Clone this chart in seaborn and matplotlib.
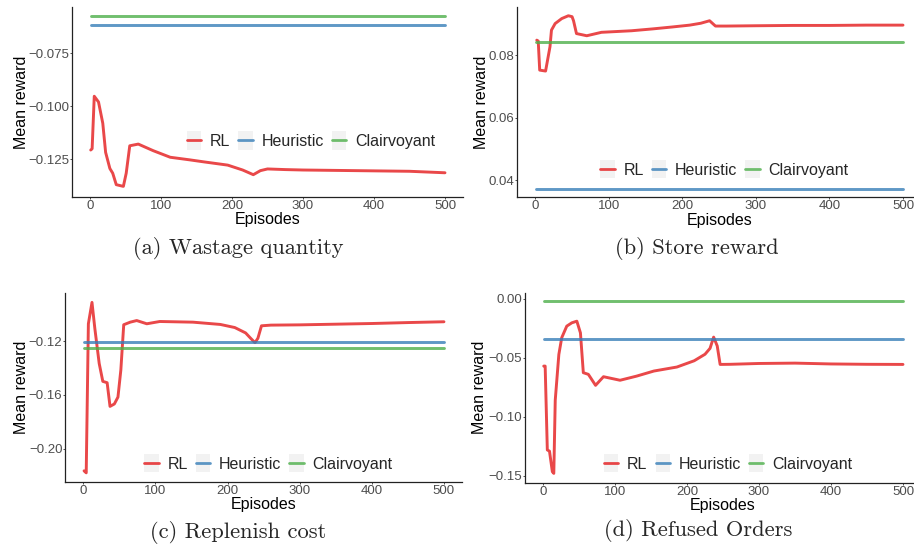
import matplotlib
matplotlib.use('Agg')
import numpy as np
import pandas as pd
import seaborn as sns
from matplotlib import pyplot as plt
from matplotlib.lines import Line2D
from matplotlib.patches import Rectangle
from matplotlib.legend_handler import HandlerLine2D
from matplotlib.ticker import FuncFormatter

# data
methods = ['RL', 'Heuristic', 'Clairvoyant']
colors = {'RL': '#E41A1C', 'Heuristic': '#377EB8', 'Clairvoyant': '#4DAF4A'}
base_episodes = [1, 500]

wastage_ep = [1, 3, 6, 12, 18, 22, 28, 32, 37, 47, 51, 56, 68, 89, 113, 140, 161, 194,
              215, 230, 240, 250, 275, 300, 350, 400, 450, 500]
wastage_rl = [-0.1206, -0.1200, -0.0953, -0.0980, -0.1080, -0.1217, -0.1293, -0.1315,
              -0.1369, -0.1377, -0.1315, -0.1186, -0.1178, -0.1209, -0.1240, -0.1252,
              -0.1262, -0.1277, -0.1300, -0.1322, -0.1303, -0.1295, -0.1298, -0.1300,
              -0.1302, -0.1304, -0.1306, -0.1313]
wastage_heur = -0.0617
wastage_clair = -0.0574

store_ep = [2, 4, 6, 14, 20, 22, 27, 36, 45, 50, 52, 56, 70, 90, 131, 160, 186, 210,
            225, 237, 245, 260, 300, 350, 400, 450, 500]
store_rl = [0.0848, 0.0845, 0.0752, 0.0749, 0.0827, 0.0880, 0.0901, 0.0917, 0.0926,
            0.0923, 0.0910, 0.0869, 0.0862, 0.0873, 0.0878, 0.0884, 0.0890, 0.0896,
            0.0902, 0.0910, 0.0893, 0.0893, 0.0894, 0.0895, 0.0895, 0.0896, 0.0896]
store_heur = 0.0371
store_clair = 0.0841

replen_ep = [1, 4, 7, 12, 16, 22, 27, 33, 37, 43, 48, 52, 56, 65, 74, 88, 106, 152, 190,
             210, 225, 232, 238, 242, 247, 260, 300, 350, 400, 450, 500]
replen_rl = [-0.2165, -0.2180, -0.1072, -0.0913, -0.1109, -0.1367, -0.1500, -0.1510,
             -0.1686, -0.1668, -0.1617, -0.1416, -0.1079, -0.1060, -0.1048, -0.1072,
             -0.1055, -0.1060, -0.1077, -0.1100, -0.1140, -0.1180, -0.1212, -0.1180,
             -0.1087, -0.1082, -0.1080, -0.1075, -0.1070, -0.1063, -0.1057]
replen_heur = -0.1205
replen_clair = -0.1252

refused_ep = [1, 3, 6, 9, 13, 15, 17, 22, 26, 33, 40, 47, 52, 56, 63, 73, 84, 107, 130,
              154, 186, 210, 225, 232, 237, 242, 246, 260, 300, 350, 400, 450, 500]
refused_rl = [-0.0570, -0.0570, -0.1280, -0.1290, -0.1464, -0.1478, -0.0859, -0.0472,
              -0.0330, -0.0232, -0.0204, -0.0190, -0.0289, -0.0626, -0.0640, -0.0733,
              -0.0660, -0.0690, -0.0655, -0.0612, -0.0578, -0.0525, -0.0470, -0.0420,
              -0.0325, -0.0400, -0.0556, -0.0555, -0.0548, -0.0545, -0.0552, -0.0555,
              -0.0556]
refused_heur = -0.0339
refused_clair = -0.0020

W, H = 914, 552


def long_frame(ep, rl, heur, clair):
    parts = [pd.DataFrame({'episode': ep, 'value': rl, 'method': 'RL'}),
             pd.DataFrame({'episode': base_episodes, 'value': [heur] * 2, 'method': 'Heuristic'}),
             pd.DataFrame({'episode': base_episodes, 'value': [clair] * 2, 'method': 'Clairvoyant'})]
    return pd.concat(parts, ignore_index=True)


class KeyHandler(HandlerLine2D):
    def create_artists(self, legend, orig_handle, xdescent, ydescent, width, height, fontsize, trans):
        bg = Rectangle((-xdescent, -ydescent - 0.2 * height), width, height * 1.4,
                       facecolor='#F2F2F2', edgecolor='none', transform=trans)
        arts = super().create_artists(legend, orig_handle, xdescent, ydescent, width, height, fontsize, trans)
        return [bg] + list(arts)


def minus(fmt):
    return FuncFormatter(lambda v, p: (fmt % v).replace('-', '\u2212'))


sns.set_style('white')
plt.rcParams['font.family'] = ['Liberation Sans', 'DejaVu Sans']

fig = plt.figure(figsize=(W / 100, H / 100), dpi=100)

panels = [
    # frame, box (left, right, top, bottom px), ylim, yticks, fmt, legend anchor, ylabel x px, caption
    (long_frame(wastage_ep, wastage_rl, wastage_heur, wastage_clair),
     (72.25, 462.75, 7, 197), (-0.1427, -0.0533), [-0.125, -0.100, -0.075], '%.3f',
     (0.611, 0.291), 21, '(a) Wastage quantity', (238, 248)),
    (long_frame(store_ep, store_rl, store_heur, store_clair),
     (516.9, 921.4, 7, 197.3), (0.0345, 0.0954), [0.04, 0.06, 0.08], '%.2f',
     (0.513, 0.143), 481, '(b) Store reward', (697, 248)),
    (long_frame(replen_ep, replen_rl, replen_heur, replen_clair),
     (65.3, 462, 292.7, 482), (-0.2248, -0.0841), [-0.20, -0.16, -0.12], '%.2f',
     (0.512, 0.095), 21, '(c) Replenish cost', (238, 532)),
    (long_frame(refused_ep, refused_rl, refused_heur, refused_clair),
     (525, 921, 292.7, 482.7), (-0.1557, 0.0051), [-0.15, -0.10, -0.05, 0.00], '%.2f',
     (0.513, 0.098), 480, '(d) Refused Orders', (698, 531)),
]

for df, box, ylim, yticks, fmt, anchor, ylab_x, caption, cap_xy in panels:
    left, right, top, bottom = box
    ax = fig.add_axes([left / W, 1 - bottom / H, (right - left) / W, (bottom - top) / H])
    sns.lineplot(data=df, x='episode', y='value', hue='method', hue_order=methods,
                 palette=colors, linewidth=2.1, alpha=0.8, legend=False, ax=ax)
    ax.set_xlim(-25, 525)
    ax.set_ylim(*ylim)
    ax.set_xticks([0, 100, 200, 300, 400, 500])
    ax.set_yticks(yticks)
    ax.yaxis.set_major_formatter(minus(fmt))
    ax.tick_params(axis='both', direction='out', length=1.5, width=0.6, color='#333333',
                   labelsize=9.5, labelcolor='#4D4D4D', pad=0.6, left=True, bottom=True)
    for side in ['top', 'right']:
        ax.spines[side].set_visible(False)
    for side in ['left', 'bottom']:
        ax.spines[side].set_color('#222222')
        ax.spines[side].set_linewidth(0.9)
    ax.set_xlabel('Episodes', fontsize=11.5, color='black')
    ax.set_ylabel('Mean reward', fontsize=11.5, color='black')
    ax.xaxis.set_label_coords(0.5, -23 / (bottom - top))
    ax.xaxis.label.set_va('center')
    ax.yaxis.set_label_coords((ylab_x - left) / (right - left), 0.5)
    ax.yaxis.label.set_va('center')

    handles = [Line2D([], [], color=colors[m], linewidth=2.0, alpha=0.8) for m in methods]
    ax.legend(handles, methods, loc='center', bbox_to_anchor=anchor, ncol=3, frameon=False,
              fontsize=11.5, handlelength=0.9, handleheight=0.9, handletextpad=0.55,
              columnspacing=0.5, handler_map={Line2D: KeyHandler()})

    fig.text(cap_xy[0] / W, 1 - cap_xy[1] / H, caption, family='cmr10', fontsize=16.2,
             ha='center', va='center')

fig.savefig('out.png', dpi=100)
